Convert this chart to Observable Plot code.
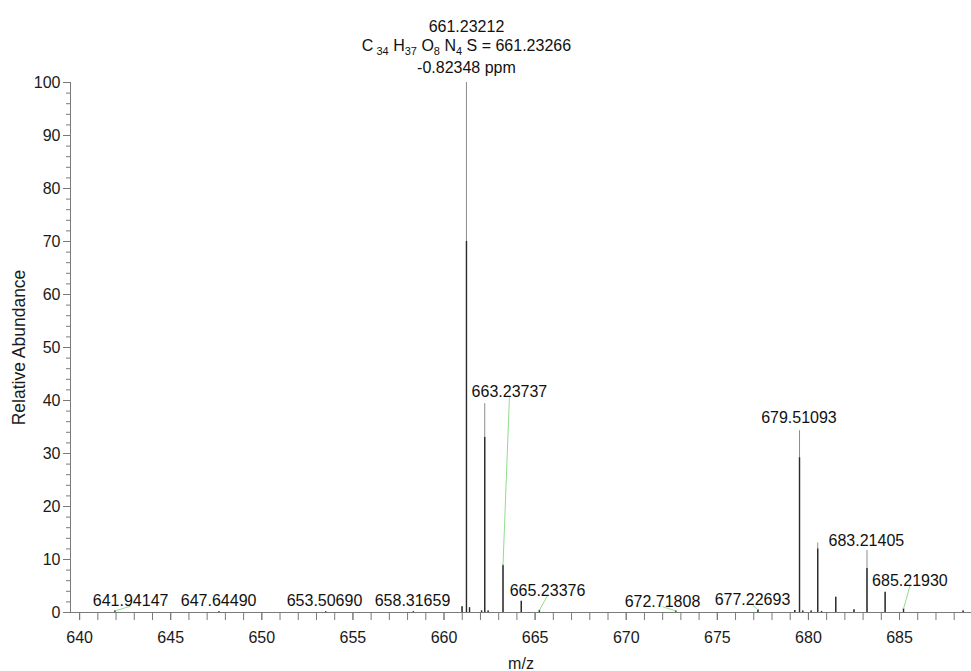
<!DOCTYPE html>
<html><head><meta charset="utf-8">
<script src="https://cdn.jsdelivr.net/npm/d3@7"></script>
<script src="https://cdn.jsdelivr.net/npm/@observablehq/plot@0.6"></script>
<style>html,body{margin:0;padding:0;background:#fff;} #chart{width:971px;height:671px;}</style>
</head><body><div id="chart"></div>
<script>
// ---- data ----
const peakMz     = [641.94147, 647.64490, 653.50690, 658.31659, 660.99, 661.23212, 661.40, 662.06, 662.235, 662.42, 663.23737, 664.24, 665.23376, 672.71808, 677.22693, 679.25, 679.51093, 679.69, 680.15, 680.51, 680.72, 681.50, 682.50, 683.21405, 684.21, 685.21930, 688.49];
const peakHeight = [0.3, 0.15, 0.15, 0.15, 1.1, 100, 0.9, 0.3, 39.4, 0.3, 8.9, 2.1, 0.4, 0.3, 0.5, 0.4, 34.3, 0.3, 0.3, 13.1, 0.2, 2.9, 0.5, 11.7, 3.8, 0.7, 0.3];
const peakCore   = [0.3, 0.15, 0.15, 0.15, 1.1, 70, 0.9, 0.3, 33, 0.3, 8.9, 2.1, 0.4, 0.3, 0.5, 0.4, 29.2, 0.3, 0.3, 12, 0.2, 2.9, 0.5, 8.3, 3.8, 0.7, 0.3];

const labelText   = ["641.94147","647.64490","653.50690","658.31659","663.23737","665.23376","672.71808","677.22693","679.51093","683.21405","685.21930"];
const labelAtMz   = [642.80, 647.63, 653.44, 658.27, 663.59, 665.68, 671.99, 676.93, 679.48, 683.18, 685.57];
const labelAtY    = [1.2, 1.2, 1.2, 1.2, 40.6, 3.2, 1.1, 1.45, 35.7, 12.6, 5.0];
const labelLeader = [true, false, false, false, true, true, true, true, false, false, true];

const mainPeakMz = 661.23212;
const mainLines  = ["661.23212", "C34 H37 O8 N4 S = 661.23266", "-0.82348 ppm"];

const xLabel = "m/z";
const yLabel = "Relative Abundance";
const xDomain = [639.5, 688.95];
const yDomain = [0, 100];
const xMajorTicks = [640, 645, 650, 655, 660, 665, 670, 675, 680, 685];
const xMinorTicks = d3.range(640, 689, 1);
const yMajorTicks = [0, 10, 20, 30, 40, 50, 60, 70, 80, 90, 100];
const yMinorTicks = d3.range(0, 101, 2);

// ---- build tables ----
const peaks = peakMz.map((mz, i) => ({mz, h: peakHeight[i], core: peakCore[i]}));
const labels = labelText.map((t, i) => {
  const pmz = +t;
  const idx = peakMz.findIndex(m => Math.abs(m - pmz) < 1e-6);
  return {text: t, lx: labelAtMz[i], ly: labelAtY[i], px: pmz, py: peakHeight[idx], leader: labelLeader[i]};
});
const mainH = peakHeight[peakMz.indexOf(mainPeakMz)];

const font = "'Liberation Sans', Arial, Helvetica, sans-serif";
const axisColor = "#7a7a7a";

const chart = Plot.plot({
  width: 971, height: 671,
  marginLeft: 70, marginRight: 0, marginTop: 82, marginBottom: 59,
  style: {fontFamily: font, fontSize: "16px", color: "#111", background: "#fff", overflow: "visible"},
  x: {domain: xDomain},
  y: {domain: yDomain},
  marks: [
    Plot.ruleY([yDomain[0]], {stroke: axisColor, strokeWidth: 1}),
    Plot.ruleX([xDomain[0]], {y1: yDomain[0], y2: yDomain[1], stroke: axisColor, strokeWidth: 1}),
    Plot.axisY({ticks: yMinorTicks, tickSize: 4, text: null, label: null, stroke: axisColor}),
    Plot.axisY({ticks: yMajorTicks, tickSize: 7, tickPadding: 3, fontSize: 16, fill: "#1a1a1a", stroke: axisColor,
      label: yLabel, labelAnchor: "center", labelOffset: 58, labelArrow: "none"}),
    Plot.axisX({ticks: xMinorTicks, tickSize: 8, text: null, label: null, stroke: axisColor}),
    Plot.axisX({ticks: xMajorTicks, tickSize: 8, tickPadding: 11, fontSize: 16, fill: "#1a1a1a", stroke: axisColor,
      tickFormat: d => String(d), label: xLabel, labelAnchor: "center", labelOffset: 56, labelArrow: "none"}),
    Plot.ruleX(peaks, {x: "mz", y1: 0, y2: "h", stroke: "#8c8c8c", strokeWidth: 1}),
    Plot.ruleX(peaks, {x: "mz", y1: 0, y2: "core", stroke: "#2a2a2a", strokeWidth: 1.4}),
    Plot.link(labels.filter(d => d.leader), {x1: "lx", y1: "ly", x2: "px", y2: "py", stroke: "#92dc92", strokeWidth: 1}),
    Plot.text(labels, {x: "lx", y: "ly", text: "text", lineAnchor: "bottom", fontSize: 16, fill: "#111"}),
    Plot.text([mainLines[0]], {x: () => mainPeakMz, y: () => mainH, text: d => d, lineAnchor: "bottom", dy: -51, fontSize: 16, fill: "#111"}),
    Plot.text([mainLines[1]], {x: () => mainPeakMz, y: () => mainH, text: d => d, lineAnchor: "bottom", dy: -31.5, fontSize: 16, fill: "#111"}),
    Plot.text([mainLines[2]], {x: () => mainPeakMz, y: () => mainH, text: d => d, lineAnchor: "bottom", dy: -9.5, fontSize: 16, fill: "#111"})
  ]
});
document.getElementById("chart").appendChild(chart);

chart.querySelectorAll("text").forEach(t => {
  // larger y-axis title as in the reference
  if (t.textContent === yLabel) t.setAttribute("font-size", "17.5");
  // formula with subscripts
  if (t.textContent === mainLines[1]) {
    const parts = [["C", false], [" 34", true], [" H", false], ["37", true], [" O", false], ["8", true], [" N", false], ["4", true], [" S = 661.23266", false]];
    t.textContent = "";
    let lowered = false;
    for (const [s, sub] of parts) {
      const ts = document.createElementNS("http://www.w3.org/2000/svg", "tspan");
      ts.textContent = s;
      if (sub && !lowered) { ts.setAttribute("dy", "4"); lowered = true; }
      else if (!sub && lowered) { ts.setAttribute("dy", "-4"); lowered = false; }
      if (sub) ts.setAttribute("font-size", "11");
      t.appendChild(ts);
    }
  }
});
</script>
</body></html>
